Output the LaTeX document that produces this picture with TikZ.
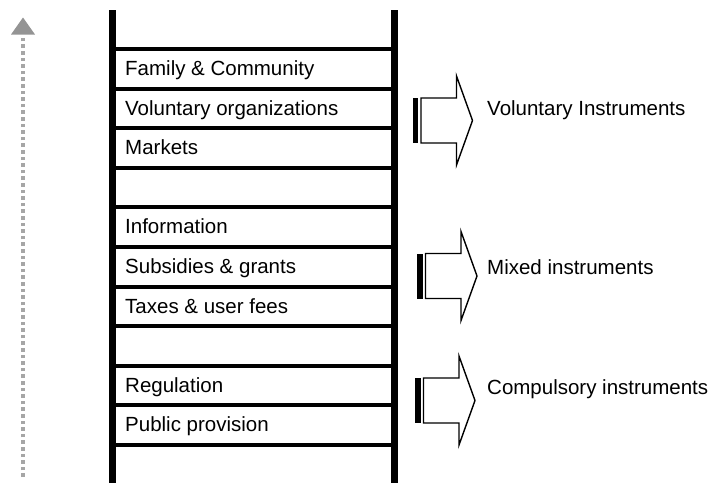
\documentclass[tikz,border=0pt]{standalone}
\usepackage{fontspec}
\setmainfont{Liberation Sans}
\begin{document}
\begin{tikzpicture}[x=1pt,y=-1pt,
  rail/.style={line width=7.5pt,black},
  rung/.style={line width=4pt,black},
  lbl/.style={anchor=base west,inner sep=0pt,font=\fontsize{20.5}{24}\selectfont},
  arrowtext/.style={anchor=base west,inner sep=0pt,font=\fontsize{20.5}{24}\selectfont},
  blockline/.style={line width=1.4pt,black,line join=miter},
  scale arrow/.style={line width=3.6pt,black!35,dash pattern=on 3.6pt off 3pt},
]
\useasboundingbox (0,0) rectangle (712,483);
% rails
\draw[rail] (112.5,10) -- (112.5,483);
\draw[rail] (394.5,10) -- (394.5,483);
% rungs
\foreach \y in {49,88.6,128.2,167.8,207.4,247,286.6,326.2,365.8,405.4,445}
  \draw[rung] (109,\y) -- (394,\y);
% labels
\node[lbl] (l1) at (125,75.5) {Family \& Community};
\node[lbl] (l2) at (125,115.1) {Voluntary organizations};
\node[lbl] (l3) at (125,154.7) {Markets};
\node[lbl] (l4) at (125,233.9) {Information};
\node[lbl] (l5) at (125,273.5) {Subsidies \& grants};
\node[lbl] (l6) at (125,313.1) {Taxes \& user fees};
\node[lbl] (l7) at (125,392.3) {Regulation};
\node[lbl] (l8) at (125,431.9) {Public provision};
% dotted scale arrow
\coordinate (sb) at (23,477);
\coordinate (st) at (23,37);
\draw[scale arrow] (sb) -- (st);
\fill[black!42] (11,34.5) -- (23,17.5) -- (35,34.5) -- cycle;
% block arrows
\newcommand{\BArrow}[2]{%
  \fill[black] (#1,#2-22.5) rectangle (#1+5.5,#2+22.5);
  \draw[blockline] (#1+8.5,#2-22.5) -- (#1+44,#2-22.5) -- (#1+44,#2-44.5) -- (#1+60,#2) -- (#1+44,#2+44.5) -- (#1+44,#2+22.5) -- (#1+8.5,#2+22.5) -- cycle;
}
\BArrow{412.5}{120.5}
\BArrow{417}{276}
\BArrow{415}{400.5}
\node[arrowtext] (t1) at (487,115) {Voluntary Instruments};
\node[arrowtext] (t2) at (487,274.5) {Mixed instruments};
\node[arrowtext] (t3) at (487,394.5) {Compulsory instruments};
\end{tikzpicture}
\end{document}
